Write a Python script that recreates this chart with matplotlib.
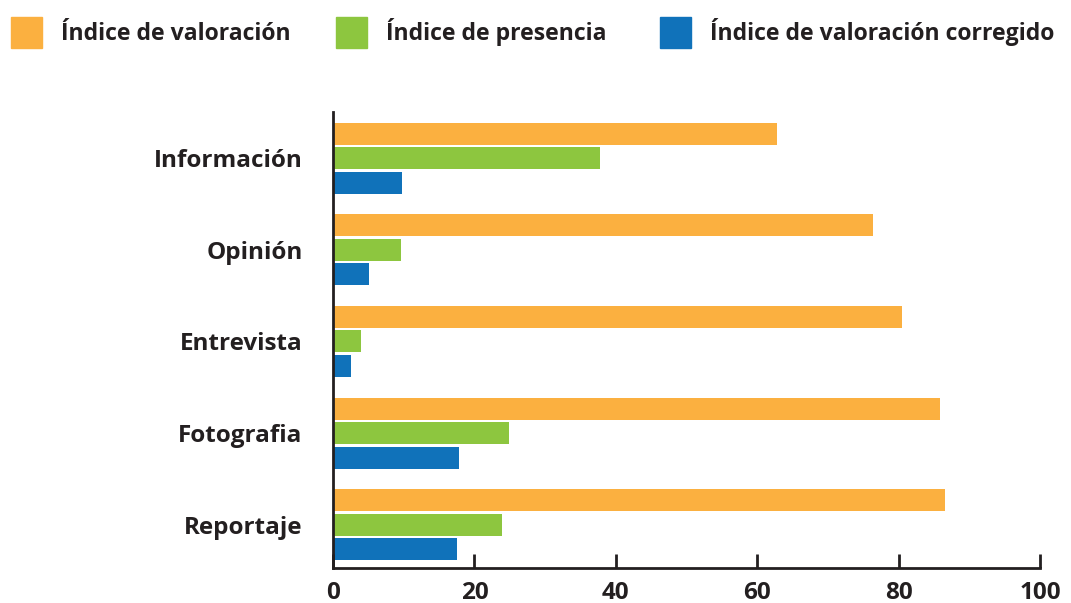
import matplotlib

matplotlib.use("Agg")
import matplotlib.pyplot as plt
import numpy as np
from matplotlib.patches import Rectangle

plt.rcParams["font.family"] = ["Open Sans", "DejaVu Sans"]
plt.rcParams["font.weight"] = "bold"

categories = ["Información", "Opinión", "Entrevista", "Fotografia", "Reportaje"]
valoracion = [62.8, 76.4, 80.5, 85.9, 86.6]
presencia = [37.8, 9.6, 4.0, 24.9, 23.9]
corregido = [9.8, 5.1, 2.5, 17.8, 17.5]
series_names = ["Índice de valoración", "Índice de presencia",
                "Índice de valoración corregido"]
colors = ["#fbb040", "#8dc63f", "#1072ba"]
ink = "#231f20"

W, H = 1071, 603
fig = plt.figure(figsize=(W / 100, H / 100), dpi=100)
ax = fig.add_axes([0.311, 0.058, 0.66, 0.756])

y = np.arange(len(categories))
h = 0.24
step = 0.267
for off, vals, c in zip([-step, 0, step], [valoracion, presencia, corregido], colors):
    ax.barh(y + off, vals, height=h, color=c)

ax.set_ylim(len(categories) - 0.53, -0.5)
ax.set_xlim(0, 100)
ax.set_yticks(y)
ax.set_yticklabels(categories, fontsize=17.5, fontweight="bold", color=ink)
ax.set_xticks(range(0, 101, 20))
ax.set_xticklabels([str(v) for v in range(0, 101, 20)], fontsize=17.5,
                   fontweight="bold", color=ink)
ax.tick_params(axis="y", length=0, pad=22)
ax.tick_params(axis="x", direction="in", length=10, width=2, color=ink, pad=9)
for s in ["top", "right"]:
    ax.spines[s].set_visible(False)
for s in ["left", "bottom"]:
    ax.spines[s].set_color(ink)
    ax.spines[s].set_linewidth(2)

# legend drawn by hand (square swatches, wide spacing)
for x0, name, c in zip([11, 336, 660], series_names, colors):
    fig.patches.append(Rectangle((x0 / W, 1 - 48 / H), 31 / W, 31 / H,
                                 transform=fig.transFigure, color=c))
    fig.text((x0 + 50) / W, 1 - 40 / H, name, fontsize=16.6, fontweight="bold",
             color=ink, va="baseline", ha="left")

fig.savefig("out.png", dpi=100)
